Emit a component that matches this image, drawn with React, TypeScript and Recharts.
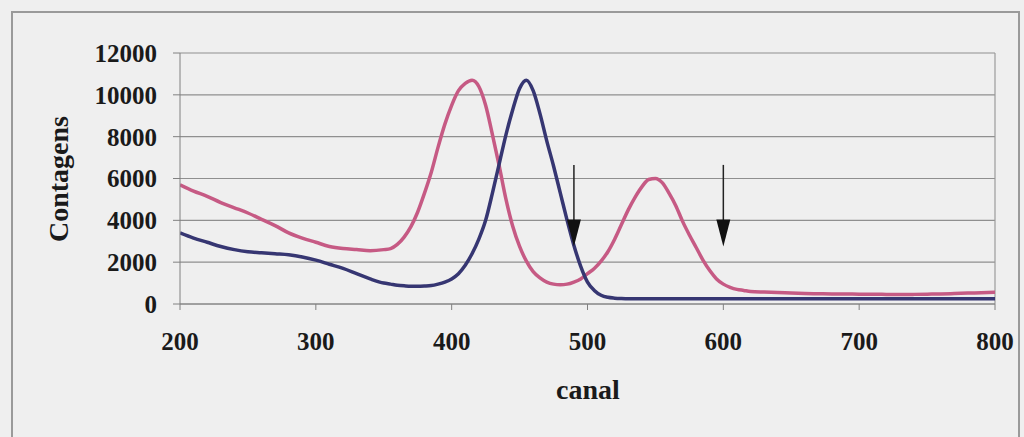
import { LineChart, Line, XAxis, YAxis, CartesianGrid, ReferenceLine, ReferenceDot } from "recharts"

// canal (channel) sampled more densely around the peaks
const canal = [
  200, 210, 220, 230, 240, 250, 260, 270, 280, 290, 300, 310, 320, 330, 340, 350,
  355, 360, 365, 370, 375, 380, 385, 390, 395, 400, 405, 410, 415, 420, 425, 430,
  435, 440, 445, 450, 455, 460, 465, 470, 475, 480, 485, 490, 495, 500, 505, 510,
  515, 520, 525, 530, 535, 540, 545, 550, 555, 560, 565, 570, 575, 580, 585, 590,
  595, 600, 605, 610, 615, 620, 630, 640, 650, 660, 670, 680, 690, 700, 710, 720,
  730, 740, 750, 760, 770, 780, 790, 800,
]

const rosa = [
  5700, 5400, 5150, 4850, 4600, 4350, 4050, 3750, 3400, 3150, 2950, 2750, 2650, 2600, 2550, 2600,
  2650, 2850, 3200, 3700, 4400, 5300, 6300, 7500, 8600, 9500, 10200, 10550, 10700, 10400, 9500, 8100,
  6600, 5000, 3700, 2750, 2050, 1550, 1250, 1050, 950, 920, 950, 1050, 1200, 1450, 1700, 2050,
  2500, 3100, 3800, 4500, 5100, 5600, 5950, 6000, 5800, 5300, 4700, 3950, 3300, 2700, 2100, 1600,
  1200, 950, 800, 700, 650, 600, 570, 550, 520, 500, 490, 480, 480, 470, 470, 460,
  450, 460, 470, 480, 500, 520, 540, 560,
]

const azul = [
  3400, 3150, 2950, 2750, 2600, 2500, 2450, 2400, 2350, 2250, 2100, 1900, 1700, 1450, 1200, 1000,
  950, 900, 870, 850, 850, 860, 880, 950, 1050, 1200, 1450, 1850, 2400, 3100, 4000, 5300,
  6700, 8100, 9300, 10300, 10700, 10200, 9100, 7800, 6600, 5300, 4000, 2800, 1800, 1050, 650, 420,
  320, 280, 260, 250, 250, 250, 250, 250, 250, 250, 250, 250, 250, 250, 250, 250,
  250, 250, 250, 250, 250, 250, 250, 250, 250, 250, 250, 250, 250, 250, 250, 250,
  250, 250, 250, 250, 250, 250, 250, 250,
]

const xTicks = [200, 300, 400, 500, 600, 700, 800]
const yTicks = [0, 2000, 4000, 6000, 8000, 10000, 12000]

// arrows marking the two channels
const setas = [
  { canal: 490, de: 6650, ate: 2750 },
  { canal: 600, de: 6650, ate: 2750 },
]

const data = canal.map((c, i) => ({ canal: c, rosa: rosa[i], azul: azul[i] }))

const fonte = "'Liberation Serif', 'Times New Roman', serif"
const tickStyle = { fill: "#1a1a1a", fontSize: 25, fontWeight: 700, fontFamily: fonte }

const PontaSeta = (props: any) => {
  const { cx, cy } = props
  return <path d={`M${cx - 7},${cy - 27} L${cx + 7},${cy - 27} L${cx},${cy} Z`} fill="#111" />
}

export default function App() {
  return (
    <div
      style={{
        position: "absolute",
        left: 0,
        top: 0,
        width: 1024,
        height: 437,
        background: "#efefef",
        overflow: "hidden",
      }}
    >
      <div
        style={{
          position: "absolute",
          left: 11,
          top: 11,
          width: 1005,
          height: 440,
          border: "2px solid #9a9a9a",
        }}
      />
      <LineChart
        width={1024}
        height={437}
        data={data}
        margin={{ top: 53, right: 29, bottom: 73, left: 60 }}
        style={{ position: "absolute", left: 0, top: 0 }}
      >
        <CartesianGrid vertical={false} stroke="#8f8f8f" strokeWidth={1.2} />
        <XAxis
          type="number"
          dataKey="canal"
          domain={[200, 800]}
          ticks={xTicks}
          height={60}
          tickSize={6}
          tickMargin={22}
          stroke="#808080"
          tick={tickStyle}
          allowDataOverflow
        />
        <YAxis
          domain={[0, 12000]}
          ticks={yTicks}
          width={120}
          tickSize={7}
          tickMargin={16}
          stroke="#808080"
          tick={tickStyle}
        />
        <ReferenceLine x={800} stroke="#9a9a9a" strokeWidth={1.2} />
        <Line
          type="monotone"
          dataKey="rosa"
          stroke="#c65a84"
          strokeWidth={3.5}
          dot={false}
          isAnimationActive={false}
        />
        <Line
          type="monotone"
          dataKey="azul"
          stroke="#363672"
          strokeWidth={3.5}
          dot={false}
          isAnimationActive={false}
        />
        {setas.map((s) => (
          <ReferenceLine
            key={`l${s.canal}`}
            segment={[
              { x: s.canal, y: s.de },
              { x: s.canal, y: s.ate + 900 },
            ]}
            stroke="#222"
            strokeWidth={1.5}
          />
        ))}
        {setas.map((s) => (
          <ReferenceDot key={`p${s.canal}`} x={s.canal} y={s.ate} shape={PontaSeta} />
        ))}
      </LineChart>
      <svg
        width={1024}
        height={437}
        style={{ position: "absolute", left: 0, top: 0, pointerEvents: "none" }}
      >
        <text
          transform="translate(68,179) rotate(-90)"
          textAnchor="middle"
          fontFamily={fonte}
          fontWeight={700}
          fontSize={28}
          fill="#1a1a1a"
        >
          Contagens
        </text>
        <text
          x={588}
          y={399}
          textAnchor="middle"
          fontFamily={fonte}
          fontWeight={700}
          fontSize={28}
          fill="#1a1a1a"
        >
          canal
        </text>
      </svg>
    </div>
  )
}
